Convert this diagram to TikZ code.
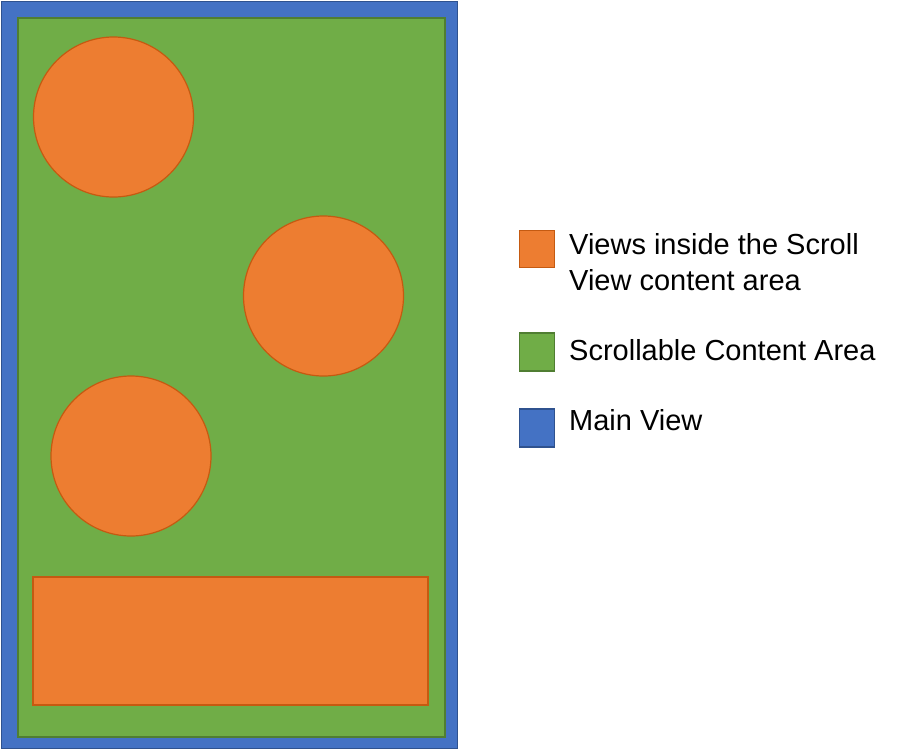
\documentclass[tikz,border=0pt]{standalone}
\usepackage{fontspec}
\setmainfont{Liberation Sans}
\definecolor{ofill}{HTML}{ED7D31}
\definecolor{oline}{HTML}{C55A11}
\definecolor{gfill}{HTML}{70AD47}
\definecolor{gline}{HTML}{507E32}
\definecolor{bfill}{HTML}{4472C4}
\definecolor{bline}{HTML}{2F528F}
\tikzset{
  orangeshape/.style={fill=ofill, draw=oline, line width=1.2pt},
  greenshape/.style={fill=gfill, draw=gline, line width=1.5pt},
  blueshape/.style={fill=bfill, draw=bline, line width=1.5pt},
  legendtext/.style={anchor=base west, inner sep=0pt, font=\fontsize{29}{36}\selectfont, align=left, text=black},
}
\begin{document}
\begin{tikzpicture}[x=1pt,y=-1pt]
\useasboundingbox (0,0) rectangle (924,750);
% main view
\draw[blueshape] (1.5,1.5) rectangle (457.5,748.5);
% scrollable content area
\draw[greenshape] (18,18) rectangle (445,737);
% views
\draw[orangeshape] (113.5,117) circle (80);
\draw[orangeshape] (323.5,296) circle (80);
\draw[orangeshape] (131,456) circle (80);
\draw[orangeshape] (33,577) rectangle (428,705);
% legend
\node[orangeshape, minimum width=35pt, minimum height=37pt, inner sep=0pt, anchor=north west] (lo) at (518.5,229.5) {};
\node[greenshape, minimum width=35pt, minimum height=38pt, inner sep=0pt, anchor=north west] (lg) at (518.5,332) {};
\node[blueshape, minimum width=35pt, minimum height=38pt, inner sep=0pt, anchor=north west] (lb) at (518.5,408) {};
\node[legendtext] (to) at (569,290) {Views inside the Scroll\\View content area};
\node[legendtext] (tg) at (569,360) {Scrollable Content Area};
\node[legendtext] (tb) at (569,430) {Main View};
\end{tikzpicture}
\end{document}
